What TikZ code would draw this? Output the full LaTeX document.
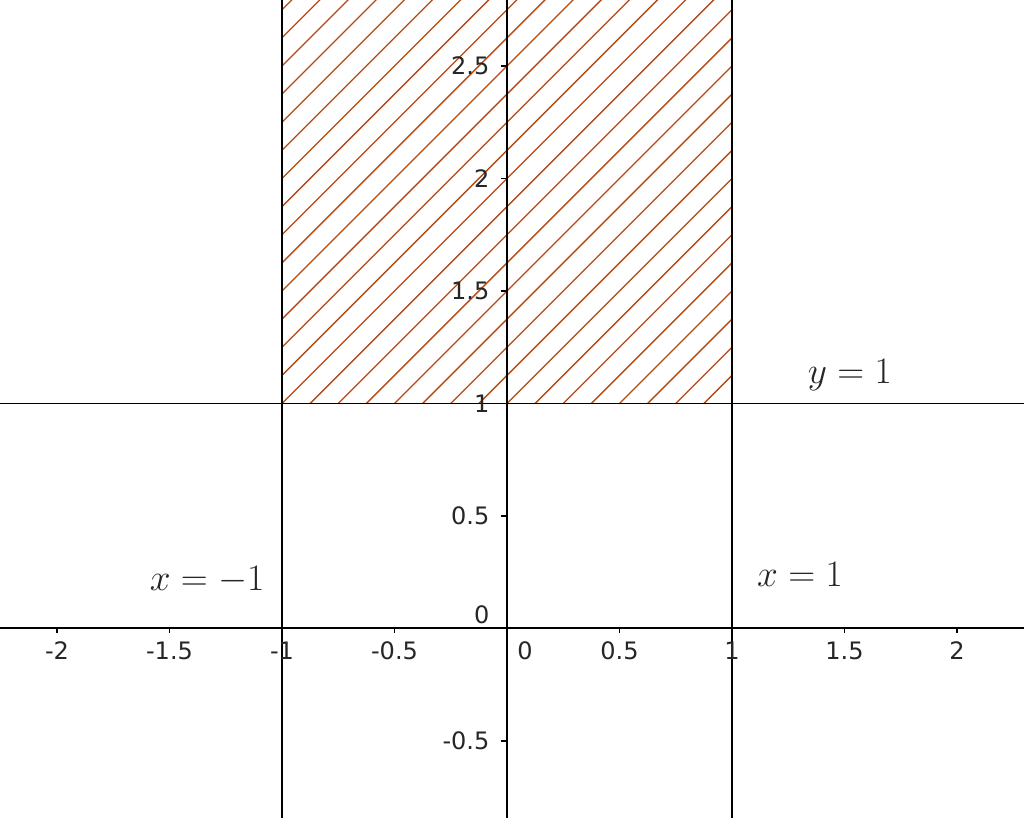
\documentclass[tikz,border=0pt]{standalone}
\usepackage{fontspec}
\newfontfamily\tickfont{DejaVu Sans}
\definecolor{hatchc}{RGB}{181,72,19}
\newcommand{\eqtext}[1]{\scalebox{1.1254}{$#1$}}
\begin{document}
\begin{tikzpicture}[x=168.75pt,y=168.75pt,
  axisline/.style={line width=1.5pt,black},
  guideline/.style={line width=1.2pt,black},
  tickmark/.style={line width=0.8pt,black},
  hatchline/.style={draw=hatchc,line width=0.95pt},
  ticklbl/.style={font=\tickfont\fontsize{18}{20}\selectfont,inner sep=0pt,text=black!85},
  eqlbl/.style={font=\fontsize{24.88}{28}\selectfont,inner sep=0pt,anchor=base,text=black!85}]
\useasboundingbox (-2.2533,-0.8422) rectangle (2.2978,2.7933);
\def\ymin{-0.8422}\def\ymax{2.7933}\def\xmin{-2.2533}\def\xmax{2.2978}
% hatched region
\begin{scope}
  \clip (-1,1) rectangle (1,\ymax);
  \foreach \k in {-15,...,16}{
    \draw[hatchline] ({-1+\k*0.125},1) -- ({1+\k*0.125},3);
  }
\end{scope}
% named end points
\coordinate (xl) at (\xmin,0);
\coordinate (xr) at (\xmax,0);
\coordinate (yb) at (0,\ymin);
\coordinate (yt) at (0,\ymax);
\coordinate (ml) at (-1,\ymin);
\coordinate (mlt) at (-1,\ymax);
\coordinate (pl) at (1,\ymin);
\coordinate (plt) at (1,\ymax);
\coordinate (hl) at (\xmin,1);
\coordinate (hr) at (\xmax,1);
% guide lines
\draw[guideline] (ml) -- (mlt);
\draw[guideline] (pl) -- (plt);
\draw[guideline] (hl) -- (hr);
% axes
\draw[axisline] (xl) -- (xr);
\draw[axisline] (yb) -- (yt);
% x ticks
\foreach \v/\t in {-2/-2,-1.5/-1.5,-1/-1,-0.5/-0.5,0.5/0.5,1/1,1.5/1.5,2/2}{
  \draw[tickmark] (\v,0) -- ++(0,-3.75pt);
  \node[ticklbl,anchor=base] (xt\t) at ([yshift=-22.9pt]\v,0) {\t};
}
\node[ticklbl,anchor=base] (xt0) at ([xshift=13.5pt,yshift=-22.9pt]0,0) {0};
% y ticks
\foreach \v/\t in {-0.5/-0.5,0.5/0.5,1/1,1.5/1.5,2/2,2.5/2.5}{
  \draw[tickmark] (0,\v) -- ++(-4.5pt,0);
  \node[ticklbl,anchor=east] (yt\t) at ([xshift=-13pt]0,\v) {\t};
}
\node[ticklbl,anchor=east] (yt0) at ([xshift=-13pt,yshift=10.1pt]0,0) {0};
% equation labels
\node[eqlbl] (lx1) at (1.302,0.186) {\eqtext{x=1}};
\node[eqlbl] (ly1) at (1.524,1.091) {\eqtext{y=1}};
\node[eqlbl] (lxm1) at (-1.333,0.171) {\eqtext{x=-1}};
\end{tikzpicture}
\end{document}
